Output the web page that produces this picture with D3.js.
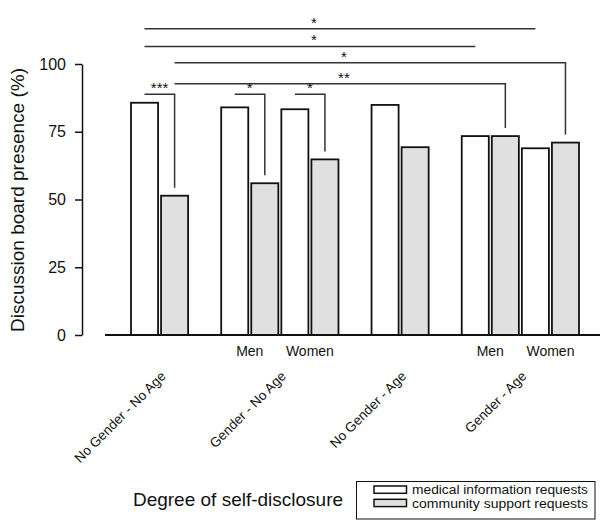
<!DOCTYPE html>
<html><head><meta charset="utf-8">
<script src="https://cdn.jsdelivr.net/npm/d3@7"></script>
<style>body{margin:0;background:#fff;} text{font-family:"Liberation Sans",Arial,Helvetica,sans-serif;fill:#111;}</style>
</head><body><svg id="c" width="600" height="520"></svg>
<script>
const categories = ["No Gender - No Age","Gender - No Age","No Gender - Age","Gender - Age"];
const conditionCategory = [0,1,1,2,3,3];
const conditionGender = ["","Men","Women","","Men","Women"];
const medicalValues = [85.7,84.0,83.3,84.9,73.4,68.9];
const communityValues = [51.4,56.0,64.8,69.3,73.4,71.0];
const seriesNames = ["medical information requests","community support requests"];
const yTicks = [0,25,50,75,100];
const withinSig = [{cond:0,label:"***"},{cond:1,label:"*"},{cond:2,label:"*"}];
const withinLevel = 88.8;
const betweenSig = [
  {series:0, from:0, to:5, level:113, label:"*", drop:false},
  {series:0, from:0, to:4, level:106.5, label:"*", drop:false},
  {series:1, from:0, to:5, level:100.5, label:"*", drop:true},
  {series:1, from:0, to:4, level:92.7, label:"**", drop:true}
];

const svg = d3.select("#c");
const seriesValues = [medicalValues, communityValues];
const fills = ["#ffffff", "#e0e0e0"];

// slot layout: one empty slot between categories
const slots = []; let s = 0;
conditionCategory.forEach((c,i)=>{ if(i>0 && c!==conditionCategory[i-1]) s++; slots.push([s,s+1]); s+=2; });

const x = d3.scaleBand().domain(d3.range(s)).range([129.5,580.5]).paddingInner(0.1).paddingOuter(0.05);
const y = d3.scaleLinear().domain([0,100]).range([335,64]);
const bw = x.bandwidth();
const cx = (cond, ser) => x(slots[cond][ser]) + bw/2;

// y axis
const ya = svg.append("g").attr("transform","translate(82,0)")
  .call(d3.axisLeft(y).tickValues(yTicks).tickSize(7).tickSizeOuter(0).tickPadding(9));
ya.selectAll("path,line").attr("stroke","#111").attr("stroke-width",1.5);
ya.selectAll("text").style("font-size","16px").attr("fill","#111").style("font-family",'"Liberation Sans",Arial,sans-serif');

// bars
const bars = [];
medicalValues.forEach((v,i)=>{ [0,1].forEach(j=>bars.push({cond:i, ser:j, v:seriesValues[j][i]})); });
svg.append("g").selectAll("rect").data(bars).join("rect")
  .attr("x", d=>x(slots[d.cond][d.ser]))
  .attr("y", d=>y(d.v))
  .attr("width", bw)
  .attr("height", d=>y(0)-y(d.v))
  .attr("fill", d=>fills[d.ser])
  .attr("stroke","#111").attr("stroke-width",1.8);

// baseline
svg.append("line").attr("x1",105).attr("x2",600).attr("y1",y(0)).attr("y2",y(0))
  .attr("stroke","#111").attr("stroke-width",1.8);

// gender labels
svg.append("g").selectAll("text").data(conditionGender.map((g,i)=>({g,i})).filter(d=>d.g))
  .join("text")
  .attr("x", d=>(x(slots[d.i][0]) + x(slots[d.i][1]) + bw)/2)
  .attr("y", 356).attr("text-anchor","middle").style("font-size","14px")
  .text(d=>d.g);

// category labels
categories.forEach((c,k)=>{
  const idx = conditionCategory.map((cc,i)=>cc===k?i:-1).filter(i=>i>=0);
  const left = x(slots[idx[0]][0]);
  const right = x(slots[idx[idx.length-1]][1]) + bw;
  const mid = (left+right)/2;
  svg.append("text").attr("transform",`translate(${mid+7},377) rotate(-45)`)
    .attr("text-anchor","end").style("font-size","13.5px").text(c);
});

// significance brackets
const sg = svg.append("g").attr("fill","none").attr("stroke","#333").attr("stroke-width",1.5);
withinSig.forEach(d=>{
  const x1 = cx(d.cond,0), x2 = cx(d.cond,1);
  sg.append("path").attr("d",`M${x1},${y(withinLevel)}H${x2}V${y(communityValues[d.cond])-8}`);
  svg.append("text").attr("x",(x1+x2)/2).attr("y",y(withinLevel)-1).attr("text-anchor","middle")
    .style("font-size","15px").text(d.label);
});
betweenSig.forEach(d=>{
  const x1 = cx(d.from,d.series), x2 = cx(d.to,d.series);
  let p = `M${x1},${y(d.level)}H${x2}`;
  if(d.drop) p += `V${y(seriesValues[d.series][d.to])-8}`;
  sg.append("path").attr("d",p);
  const lx = (x1 + cx(4,d.series))/2 + 4;
  svg.append("text").attr("x",lx).attr("y",y(d.level)-1).attr("text-anchor","middle")
    .style("font-size","15px").text(d.label);
});

// axis titles
svg.append("text").attr("transform","translate(24,200) rotate(-90)").attr("text-anchor","middle")
  .style("font-size","19px").text("Discussion board presence (%)");
svg.append("text").attr("x",238).attr("y",506).attr("text-anchor","middle")
  .style("font-size","19px").text("Degree of self-disclosure");

// legend
const lg = svg.append("g");
lg.append("rect").attr("x",356.5).attr("y",481.5).attr("width",238.5).attr("height",37.5)
  .attr("fill","#fff").attr("stroke","#111").attr("stroke-width",1);
seriesNames.forEach((n,i)=>{
  lg.append("rect").attr("x",374).attr("y",486+i*13.3).attr("width",32.5).attr("height",7.3)
    .attr("fill",fills[i]).attr("stroke","#111").attr("stroke-width",1.5);
  lg.append("text").attr("x",412).attr("y",494+i*13.5).style("font-size","12px")
    .attr("textLength",176).attr("lengthAdjust","spacingAndGlyphs").text(n);
});
</script></body></html>
